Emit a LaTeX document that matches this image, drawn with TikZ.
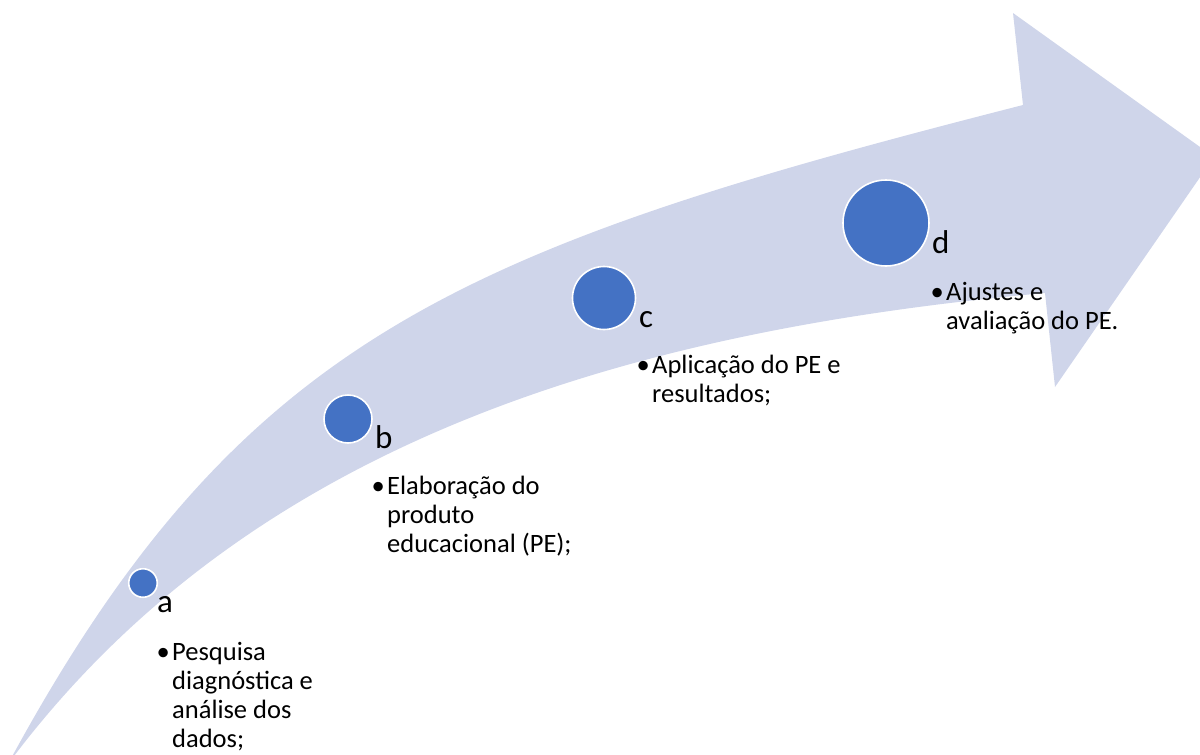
\documentclass[tikz,border=0pt]{standalone}
\usepackage{fontspec}
\setmainfont{Carlito}
\definecolor{arrowfill}{HTML}{CFD5EA}
\definecolor{dotblue}{HTML}{4472C4}
\tikzset{
  dot/.style={circle, fill=dotblue, draw=white, line width=1.6pt, inner sep=0pt},
  lbl/.style={anchor=base west, inner sep=0pt, font=\fontsize{33}{40}\selectfont},
  btxt/.style={anchor=base west, inner sep=0pt, font=\fontsize{26.5}{29}\selectfont},
  bul/.style={anchor=base east, inner sep=0pt, xshift=-2pt, font=\fontsize{26.5}{29}\selectfont},
}
\newcommand{\lines}[1]{\begin{tabular}[t]{@{}l@{}}#1\end{tabular}}
\begin{document}
\begin{tikzpicture}[x=1pt, y=-1pt]
\useasboundingbox (0,0) rectangle (1200,755);
\begin{scope}
\clip (0,0) rectangle (1200,755);
\fill[arrowfill] (1023,105) -- (1013,13) -- (1214,157) -- (1055,387) -- (1045,293)
  .. controls (625,331) and (247,443) .. (8,764)
  .. controls (240,335) and (463,248) .. (1023,105)
  -- cycle;
\end{scope}
% circles
\node[dot, minimum size=28.5pt] (ca) at (143,583) {};
\node[dot, minimum size=48pt] (cb) at (348,419) {};
\node[dot, minimum size=63pt] (cc) at (604,298) {};
\node[dot, minimum size=86pt] (cd) at (886,223) {};
% labels
\node[lbl] (la) at (157,612) {a};
\node[lbl] (lb) at (375,448) {b};
\node[lbl] (lc) at (639,327) {c};
\node[lbl] (ld) at (932,253) {d};
% bullet texts
\node[btxt] (ta) at (172,660) {\lines{Pesquisa\\diagnóstica e\\análise dos\\dados;}};
\node[bul] (ba) at (ta.base west) {•};
\node[btxt] (tb) at (387,494) {\lines{Elaboração do\\produto\\educacional (PE);}};
\node[bul] (bb) at (tb.base west) {•};
\node[btxt] (tc) at (652,373) {\lines{Aplicação do PE e\\resultados;}};
\node[bul] (bc) at (tc.base west) {•};
\node[btxt] (td) at (946,300) {\lines{Ajustes e\\avaliação do PE.}};
\node[bul] (bd) at (td.base west) {•};
\end{tikzpicture}
\end{document}
